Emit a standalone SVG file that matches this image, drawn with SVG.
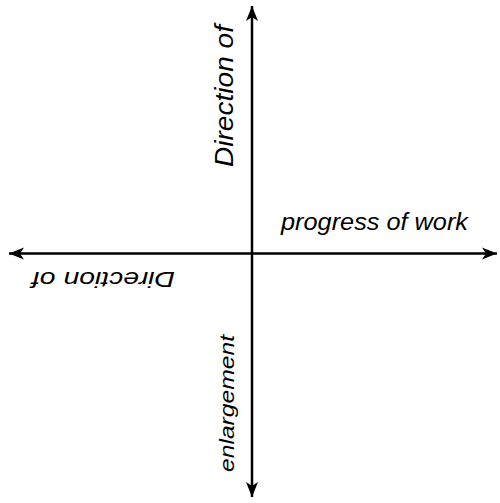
<svg xmlns="http://www.w3.org/2000/svg" width="500" height="503" viewBox="0 0 500 503">
<style>
.ax{stroke:#000;stroke-width:2.5;fill:none}
.lbl{font-family:"Liberation Sans",Arial,sans-serif;font-style:italic;fill:#000}
</style>
<defs>
<marker id="arr" markerUnits="userSpaceOnUse" markerWidth="18" markerHeight="14" refX="16" refY="7" orient="auto">
<path d="M1,1 L16,7 L1,13 L5,7 z" fill="#000"/>
</marker>
</defs>
<rect width="500" height="503" fill="#fff"/>
<g id="connectors">
<line class="ax" x1="252" y1="253.5" x2="252" y2="6" marker-end="url(#arr)"/>
<line class="ax" x1="252" y1="253.5" x2="252" y2="497" marker-end="url(#arr)"/>
<line class="ax" x1="252" y1="253.5" x2="497" y2="253.5" marker-end="url(#arr)"/>
<line class="ax" x1="252" y1="253.5" x2="9" y2="253.5" marker-end="url(#arr)"/>
</g>
<g id="label-top">
<text class="lbl" font-size="25" transform="translate(233,167) rotate(-90)" textLength="142" lengthAdjust="spacingAndGlyphs">Direction of</text>
</g>
<g id="label-right">
<text class="lbl" font-size="23" x="281" y="230" textLength="187" lengthAdjust="spacingAndGlyphs">progress of work</text>
</g>
<g id="label-left">
<text class="lbl" font-size="22" transform="translate(175,272) rotate(180)" textLength="143" lengthAdjust="spacingAndGlyphs">Direction of</text>
</g>
<g id="label-bottom">
<text class="lbl" font-size="21" transform="translate(234,472) rotate(-90)" textLength="137" lengthAdjust="spacingAndGlyphs">enlargement</text>
</g>
</svg>
